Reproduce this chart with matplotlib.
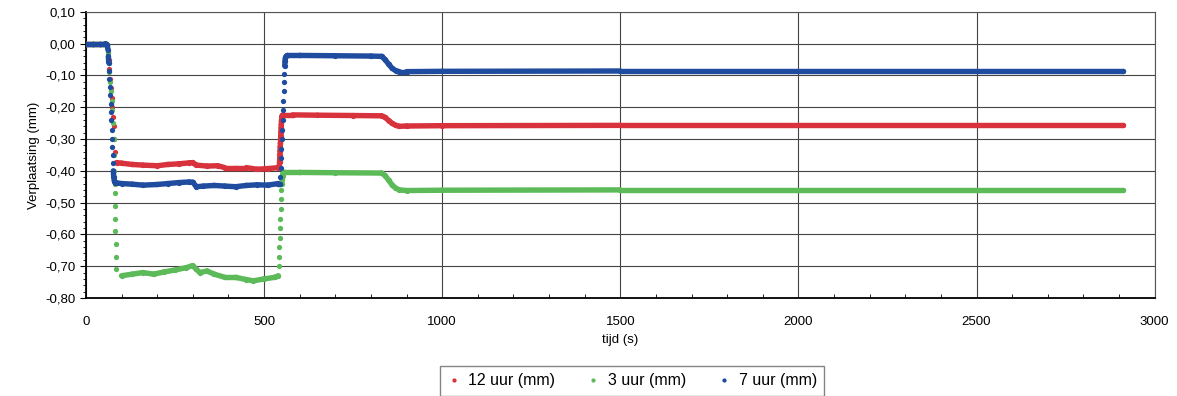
import numpy as np
import matplotlib
matplotlib.use('Agg')
import matplotlib.pyplot as plt
from matplotlib.collections import LineCollection
from matplotlib.ticker import MultipleLocator, FuncFormatter

plt.rcParams['font.family'] = ['Liberation Sans', 'DejaVu Sans']

# %% meetdata: tijd (s) en verplaatsing (mm)
t_12 = [0, 20, 40, 55, 60, 62, 64, 66, 68, 70, 72, 74, 76, 78, 80, 83, 86,
        100, 130, 160, 200, 230, 260, 290, 300, 310, 340, 370, 390, 420, 450, 480, 510, 540,
        543, 543.5, 544, 544.5, 545, 545.5, 546, 546.5, 547, 547.5, 548, 548.5, 549, 549.5,
        550, 551, 552, 554, 556,
        580, 650, 750, 830, 840, 850, 860, 870, 880, 900, 1000, 1500, 2000, 2500, 2910]
y_12 = [0, 0, 0, 0, -0.005, -0.025, -0.05, -0.08, -0.11, -0.14, -0.17, -0.2, -0.23, -0.26,
        -0.3, -0.34, -0.374,
        -0.376, -0.38, -0.382, -0.384, -0.38, -0.378, -0.375, -0.374, -0.382, -0.385, -0.384,
        -0.39, -0.39, -0.39, -0.395, -0.393, -0.39,
        -0.385, -0.373, -0.361, -0.349, -0.337, -0.325, -0.313, -0.301, -0.289, -0.277,
        -0.265, -0.254, -0.244, -0.236,
        -0.23, -0.227, -0.225, -0.224, -0.224,
        -0.224, -0.225, -0.226, -0.227, -0.232, -0.242, -0.251, -0.257, -0.26, -0.259,
        -0.258, -0.257, -0.257, -0.257, -0.257]

t_3 = [0, 20, 40, 55, 60, 62, 64, 66, 68, 70, 72, 74, 76, 78, 79, 80, 81, 81.5, 82, 82.5,
       83, 83.5, 84, 85,
       100, 130, 160, 190, 220, 250, 280, 300, 310, 320, 340, 360, 390, 420, 450, 470, 500, 530, 540,
       541, 542, 543, 544, 545, 546, 547, 548, 549, 550, 551, 552, 553, 554, 556, 560,
       600, 700, 830, 840, 850, 860, 870, 880, 900, 1000, 1500, 2000, 2500, 2910]
y_3 = [0, 0, 0, 0, -0.005, -0.03, -0.06, -0.09, -0.12, -0.15, -0.18, -0.21, -0.25, -0.3,
       -0.35, -0.4, -0.44, -0.47, -0.51, -0.55, -0.59, -0.63, -0.67, -0.71,
       -0.73, -0.725, -0.72, -0.725, -0.718, -0.712, -0.705, -0.698, -0.71, -0.72, -0.715,
       -0.725, -0.735, -0.735, -0.742, -0.746, -0.74, -0.735, -0.73,
       -0.70, -0.67, -0.64, -0.61, -0.58, -0.55, -0.52, -0.49, -0.46, -0.44, -0.425,
       -0.415, -0.41, -0.407, -0.405, -0.405,
       -0.405, -0.406, -0.407, -0.415, -0.43, -0.445, -0.455, -0.46, -0.462,
       -0.461, -0.46, -0.46, -0.46, -0.46]

t_7 = [0, 20, 40, 55, 60, 62, 63, 64, 65, 66, 67, 68, 69, 70, 71, 72, 73, 74, 75, 76,
       77, 78, 80, 82, 86,
       100, 130, 160, 200, 230, 260, 290, 300, 310, 330, 360, 390, 420, 450, 480, 510, 540, 545,
       546, 547, 548, 549, 550, 551, 552, 553, 554, 555, 556, 557, 558, 559, 560, 562,
       565, 600, 700, 800, 830, 840, 850, 860, 870, 880, 900, 1000, 1500, 2000, 2500, 2910]
y_7 = [0, 0, 0, 0, -0.005, -0.02, -0.04, -0.06, -0.085, -0.11, -0.135, -0.16, -0.19,
       -0.215, -0.24, -0.27, -0.3, -0.325, -0.35, -0.375, -0.4, -0.42, -0.432, -0.437, -0.438,
       -0.44, -0.442, -0.445, -0.443, -0.44, -0.437, -0.435, -0.436, -0.45, -0.448, -0.446,
       -0.448, -0.45, -0.446, -0.444, -0.445, -0.44, -0.44,
       -0.42, -0.39, -0.36, -0.33, -0.30, -0.27, -0.24, -0.21, -0.18, -0.15, -0.12, -0.095,
       -0.07, -0.055, -0.045, -0.04,
       -0.037, -0.037, -0.038, -0.039, -0.04, -0.05, -0.065, -0.078, -0.085, -0.088,
       -0.088, -0.087, -0.086, -0.086, -0.086, -0.086]

series = [
    ('12 uur (mm)', t_12, y_12, '#d8323c'),
    ('3 uur (mm)', t_3, y_3, '#5cba58'),
    ('7 uur (mm)', t_7, y_7, '#1f4c9f'),
]

# %% figuur
fig = plt.figure(figsize=(11.77, 3.96), dpi=100)
ax = fig.add_axes([0.073, 0.2475, 0.908, 0.7225])

for label, t, y, color in series:
    t = np.asarray(t, float)
    y = np.asarray(y, float)
    # vlakke stukken als dikke lijn, snelle sprongen alleen als losse punten
    pts = np.column_stack([t, y])
    segs = np.stack([pts[:-1], pts[1:]], axis=1)
    keep = np.abs(np.diff(y)) < 0.02
    ax.add_collection(LineCollection(segs[keep], colors=color, linewidths=3.9,
                                     capstyle='round', zorder=3))
    ax.plot(t, y, 'o', ms=3.8, mec='none', color=color, label=label, zorder=3)

ax.set_xlim(0, 3000)
ax.set_ylim(-0.8, 0.1)
ax.xaxis.set_major_locator(MultipleLocator(500))
ax.xaxis.set_minor_locator(MultipleLocator(100))
ax.yaxis.set_major_locator(MultipleLocator(0.1))
ax.yaxis.set_minor_locator(MultipleLocator(0.02))


def komma(v, pos):
    s = f'{v:.2f}'
    if s == '-0.00':
        s = '0.00'
    return s.replace('.', ',')


ax.yaxis.set_major_formatter(FuncFormatter(komma))
ax.grid(True, which='major', color='#444444', linewidth=0.8)
ax.tick_params(axis='x', which='both', direction='in', labelsize=9.5, pad=13)
ax.tick_params(axis='x', which='major', length=0)
ax.tick_params(axis='x', which='minor', length=3)
ax.tick_params(axis='y', which='both', direction='out', labelsize=9.5)
ax.tick_params(axis='y', which='major', length=4)
ax.tick_params(axis='y', which='minor', length=2)

for side in ('left', 'bottom'):
    ax.spines[side].set_linewidth(1.3)
for side in ('top', 'right'):
    ax.spines[side].set_color('#555555')
    ax.spines[side].set_linewidth(0.8)

ax.set_xlabel('tijd (s)', fontsize=9.5, labelpad=4)
ax.set_ylabel('Verplaatsing (mm)', fontsize=9.5, labelpad=4)

fig.legend(loc='center', bbox_to_anchor=(0.537, 0.038), ncol=3, fontsize=11.5,
           frameon=True, fancybox=False, edgecolor='#666666', markerscale=0.8,
           handlelength=0.8, handletextpad=0.5, columnspacing=2.0, borderpad=0.45)

fig.savefig('out.png', dpi=100, facecolor='white')
